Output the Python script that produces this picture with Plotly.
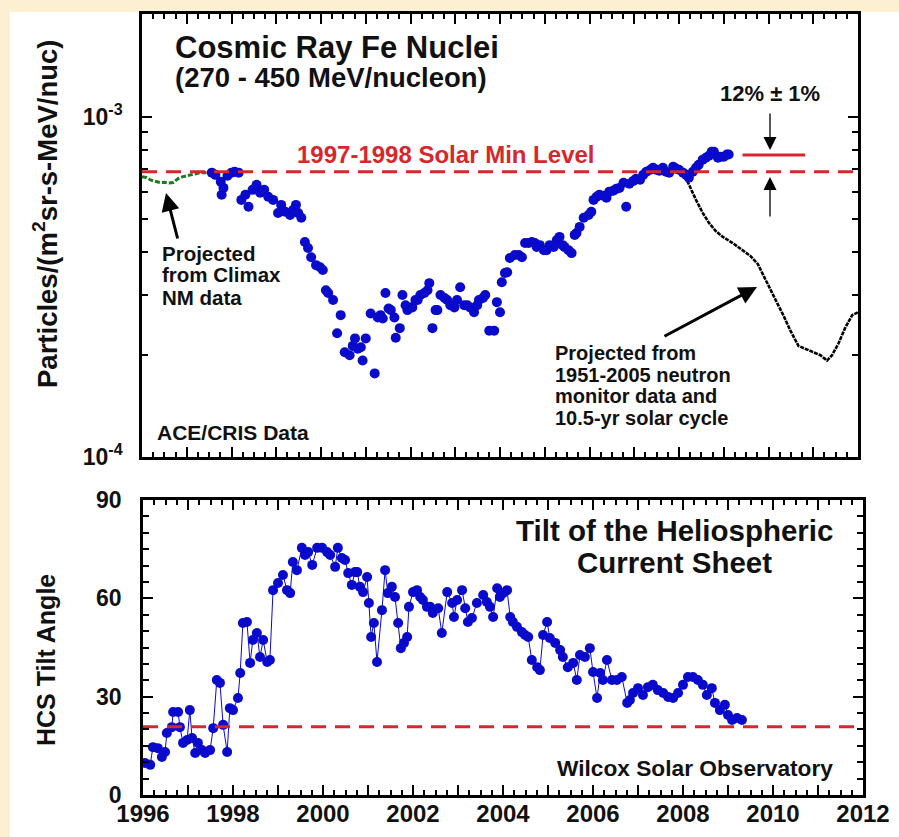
import numpy as np
import plotly.graph_objects as go

# ---------------------------------------------------------------- data
# ACE/CRIS Fe flux (270-450 MeV/nucleon), in units of 1e-4 particles/(m^2 sr s MeV/nuc)
fe_years = [1997.56, 1997.64, 1997.76, 1997.78, 1997.82, 1997.91, 1998.00, 1998.07, 1998.16, 1998.22,
            1998.31, 1998.38, 1998.47, 1998.56, 1998.64, 1998.73, 1998.82, 1998.93, 1999.04, 1999.11,
            1999.20, 1999.31, 1999.38, 1999.44, 1999.49, 1999.56, 1999.64, 1999.71, 1999.78, 1999.89,
            1999.98, 2000.04, 2000.11, 2000.16, 2000.27, 2000.36, 2000.44, 2000.53, 2000.64, 2000.71,
            2000.76, 2000.82, 2000.89, 2000.93, 2001.00, 2001.11, 2001.20, 2001.27, 2001.33, 2001.38,
            2001.44, 2001.51, 2001.56, 2001.64, 2001.67, 2001.76, 2001.82, 2001.89, 2001.93, 2002.00,
            2002.04, 2002.11, 2002.16, 2002.22, 2002.31, 2002.38, 2002.42, 2002.49, 2002.56, 2002.60,
            2002.67, 2002.76, 2002.82, 2002.89, 2002.98, 2003.04, 2003.11, 2003.20, 2003.27, 2003.33,
            2003.42, 2003.49, 2003.53, 2003.62, 2003.67, 2003.76, 2003.87, 2003.93, 2004.00, 2004.04,
            2004.11, 2004.16, 2004.22, 2004.33, 2004.42, 2004.49, 2004.56, 2004.64, 2004.71, 2004.78,
            2004.82, 2004.89, 2004.98, 2005.04, 2005.11, 2005.20, 2005.27, 2005.33, 2005.40, 2005.44,
            2005.53, 2005.60, 2005.67, 2005.71, 2005.78, 2005.87, 2005.98, 2006.04, 2006.09, 2006.16,
            2006.22, 2006.31, 2006.38, 2006.44, 2006.53, 2006.60, 2006.67, 2006.76, 2006.82, 2006.89,
            2006.98, 2007.04, 2007.13, 2007.20, 2007.27, 2007.36, 2007.42, 2007.49, 2007.56, 2007.64,
            2007.71, 2007.78, 2007.87, 2007.93, 2008.00, 2008.09, 2008.16, 2008.22, 2008.31, 2008.38,
            2008.44, 2008.53, 2008.60, 2008.67, 2008.73, 2008.78, 2008.87, 2008.93, 2009.00, 2009.07,
            2009.11]
fe_flux_e4 = [6.84, 6.74, 6.43, 5.89, 6.17, 6.70, 6.84, 6.88, 6.84, 5.69,
              5.89, 5.43, 6.09, 6.30, 5.97, 6.09, 5.81, 5.69, 5.21, 5.50,
              5.25, 5.14, 5.32, 5.50, 5.21, 5.04, 4.28, 4.11, 3.86, 3.66,
              3.61, 3.54, 3.09, 3.03, 2.89, 2.31, 2.61, 2.03, 1.99, 2.12,
              2.23, 2.08, 2.10, 1.92, 2.23, 2.64, 1.76, 2.57, 2.61, 2.55,
              3.03, 2.73, 2.70, 2.57, 2.24, 2.39, 2.99, 2.79, 2.70, 2.75,
              2.75, 2.89, 2.89, 2.99, 3.03, 3.09, 3.24, 2.39, 2.70, 2.70,
              2.99, 2.93, 2.89, 2.79, 2.75, 2.89, 3.15, 2.79, 2.79, 2.75,
              2.66, 2.79, 2.89, 2.93, 2.99, 2.35, 2.35, 2.85, 2.66, 3.26,
              3.47, 3.49, 3.84, 3.92, 3.92, 3.86, 4.25, 4.25, 4.28, 4.25,
              4.14, 4.19, 4.05, 4.05, 4.19, 4.14, 4.34, 4.43, 4.19, 4.14,
              4.05, 3.97, 4.49, 4.55, 4.74, 5.04, 5.14, 5.25, 5.69, 5.81,
              5.89, 5.85, 5.77, 6.01, 6.05, 6.13, 6.17, 6.39, 5.43, 6.35,
              6.47, 6.56, 6.52, 6.74, 6.88, 6.98, 7.07, 6.98, 6.93, 7.07,
              6.88, 6.84, 7.12, 7.03, 6.98, 6.84, 6.74, 6.61, 6.88, 7.07,
              7.22, 7.47, 7.57, 7.67, 7.88, 7.88, 7.57, 7.62, 7.62, 7.73,
              7.73]

# Fe flux projected from Climax neutron monitor data (same units)
climax_years = [1996.0, 1996.1, 1996.2, 1996.3, 1996.4, 1996.5, 1996.6, 1996.7,
                1996.8, 1996.9, 1997.0, 1997.1, 1997.2, 1997.3, 1997.4, 1997.5]
climax_flux_e4 = [6.66, 6.62, 6.50, 6.44, 6.40, 6.41, 6.38, 6.40,
                  6.56, 6.65, 6.70, 6.76, 6.80, 6.84, 6.84, 6.86]

# Projection from 1951-2005 neutron monitor data and a 10.5-yr solar cycle
proj_years = [2008.09, 2008.22, 2008.38, 2008.53, 2008.67, 2008.82, 2008.98, 2009.20, 2009.42,
              2009.60, 2009.76, 2009.93, 2010.16, 2010.33, 2010.49, 2010.67, 2010.82, 2011.00,
              2011.16, 2011.31, 2011.42, 2011.56, 2011.71, 2011.87, 2012.00]
proj_flux_e4 = [6.88, 6.30, 5.69, 5.21, 4.87, 4.61, 4.43, 4.25, 4.05,
                3.89, 3.69, 3.31, 2.89, 2.61, 2.35, 2.12, 2.08, 2.04,
                1.99, 1.92, 1.99, 2.15, 2.39, 2.61, 2.66]

solar_min_flux = 6.88e-4          # 1997-1998 solar minimum level
excess_fraction = 0.12            # current level above the 1997-98 minimum
excess_span = [2009.42, 2010.82]

# Wilcox Solar Observatory HCS tilt angle (degrees)
hcs_years = [1996.04, 1996.16, 1996.22, 1996.33, 1996.42, 1996.49, 1996.53, 1996.64, 1996.67, 1996.78,
             1996.82, 1996.89, 1996.98, 1997.04, 1997.09, 1997.16, 1997.22, 1997.31, 1997.38, 1997.49,
             1997.56, 1997.64, 1997.71, 1997.78, 1997.87, 1997.93, 1998.00, 1998.11, 1998.16, 1998.22,
             1998.31, 1998.38, 1998.44, 1998.53, 1998.60, 1998.67, 1998.76, 1998.82, 1998.89, 1999.00,
             1999.11, 1999.20, 1999.27, 1999.33, 1999.42, 1999.53, 1999.60, 1999.67, 1999.76, 1999.87,
             1999.98, 2000.09, 2000.16, 2000.27, 2000.33, 2000.42, 2000.49, 2000.56, 2000.64, 2000.71,
             2000.76, 2000.82, 2000.89, 2000.98, 2001.02, 2001.07, 2001.13, 2001.20, 2001.31, 2001.38,
             2001.44, 2001.53, 2001.60, 2001.67, 2001.73, 2001.80, 2001.87, 2001.91, 2002.00, 2002.09,
             2002.16, 2002.22, 2002.31, 2002.38, 2002.44, 2002.56, 2002.64, 2002.76, 2002.87, 2002.91,
             2002.98, 2003.09, 2003.16, 2003.22, 2003.31, 2003.42, 2003.56, 2003.64, 2003.71, 2003.78,
             2003.87, 2003.93, 2004.00, 2004.09, 2004.16, 2004.22, 2004.31, 2004.42, 2004.49, 2004.56,
             2004.64, 2004.76, 2004.82, 2004.89, 2004.98, 2005.04, 2005.16, 2005.27, 2005.33, 2005.44,
             2005.56, 2005.64, 2005.71, 2005.82, 2005.93, 2006.00, 2006.09, 2006.16, 2006.22, 2006.31,
             2006.42, 2006.53, 2006.64, 2006.76, 2006.82, 2006.89, 2007.00, 2007.11, 2007.22, 2007.33,
             2007.44, 2007.56, 2007.67, 2007.78, 2007.89, 2008.00, 2008.11, 2008.22, 2008.33, 2008.44,
             2008.53, 2008.64, 2008.71, 2008.82, 2008.93, 2009.00, 2009.09, 2009.20, 2009.31]
hcs_tilt = [9.8, 9.2, 14.6, 14.3, 11.6, 13.1, 18.9, 20.7, 25.3, 25.3,
            20.7, 15.9, 16.8, 25.9, 17.4, 12.8, 15.9, 13.7, 12.8, 13.7,
            20.4, 35.1, 34.2, 21.4, 13.1, 26.5, 25.9, 29.6, 37.2, 52.5,
            52.8, 40.3, 47.3, 49.4, 42.1, 47.3, 40.6, 41.2, 62.5, 64.7,
            67.1, 62.5, 61.6, 71.1, 68.6, 75.4, 73.2, 74.1, 70.2, 75.4,
            75.4, 74.1, 73.2, 69.6, 75.4, 72.3, 71.7, 67.7, 64.1, 68.0,
            68.0, 63.5, 61.9, 66.5, 58.6, 48.2, 52.5, 40.6, 56.4, 68.6,
            61.6, 63.5, 60.4, 52.5, 44.8, 46.4, 48.2, 57.4, 61.9, 62.5,
            60.4, 59.5, 57.4, 57.4, 55.5, 57.0, 49.4, 61.9, 58.6, 54.3,
            59.5, 62.5, 57.0, 52.8, 54.0, 58.6, 61.0, 58.9, 57.4, 54.3,
            63.1, 60.4, 61.6, 62.5, 54.3, 52.8, 51.3, 49.7, 48.8, 48.2,
            41.2, 39.0, 38.1, 48.8, 52.8, 47.9, 46.4, 44.2, 42.1, 39.0,
            40.3, 35.1, 42.7, 42.1, 44.8, 37.5, 29.6, 37.2, 35.1, 41.2,
            35.1, 35.1, 36.0, 28.1, 29.0, 31.1, 32.6, 30.5, 32.9, 33.6,
            32.0, 31.1, 29.9, 29.6, 31.1, 33.6, 36.0, 36.0, 35.1, 33.6,
            30.5, 32.6, 28.1, 25.9, 27.5, 24.4, 22.9, 23.5, 22.9]
hcs_min_tilt = 20.8               # reference tilt level

year_ticks = list(range(1996, 2013))
year_labels = [str(y) if y % 2 == 0 else "" for y in year_ticks]
tilt_ticks = [0, 30, 60, 90]

# ---------------------------------------------------------------- style
W, H = 899, 837
FONT = "Liberation Sans, Arial, Helvetica, sans-serif"
BLUE = "#0a0acc"
RED = "#d8262c"
GREEN = "#1c7a22"
INK = "#111111"


def fx(p):
    """Horizontal pixel position -> paper fraction."""
    return p / W


def fy(p):
    """Vertical pixel position (from top) -> paper fraction."""
    return 1 - p / H


scale = 1e-4
fe_flux = np.array(fe_flux_e4) * scale
climax_flux = np.array(climax_flux_e4) * scale
proj_flux = np.array(proj_flux_e4) * scale
excess_level = solar_min_flux * (1 + excess_fraction)

fig = go.Figure()

# ---- top panel
fig.add_trace(go.Scatter(x=climax_years, y=climax_flux, mode="lines",
                         line=dict(color=GREEN, width=3, dash="5px,2px"),
                         xaxis="x", yaxis="y", showlegend=False))
fig.add_trace(go.Scatter(x=proj_years, y=proj_flux, mode="lines",
                         line=dict(color="black", width=2.6, dash="4px,1px"),
                         xaxis="x", yaxis="y", showlegend=False))
fig.add_trace(go.Scatter(x=fe_years, y=fe_flux, mode="markers",
                         marker=dict(color=BLUE, size=10, line=dict(width=0)),
                         xaxis="x", yaxis="y", showlegend=False))
fig.add_trace(go.Scatter(x=[1996, 2012], y=[solar_min_flux, solar_min_flux], mode="lines",
                         line=dict(color=RED, width=3, dash="15px,9px"),
                         xaxis="x", yaxis="y", showlegend=False))
fig.add_trace(go.Scatter(x=excess_span, y=[excess_level, excess_level], mode="lines",
                         line=dict(color=RED, width=3),
                         xaxis="x", yaxis="y", showlegend=False))

# ---- bottom panel
fig.add_trace(go.Scatter(x=hcs_years, y=hcs_tilt, mode="lines+markers",
                         line=dict(color=BLUE, width=1),
                         marker=dict(color=BLUE, size=10, line=dict(width=0)),
                         xaxis="x2", yaxis="y2", showlegend=False))
fig.add_trace(go.Scatter(x=[1996, 2012], y=[hcs_min_tilt, hcs_min_tilt], mode="lines",
                         line=dict(color=RED, width=3, dash="15px,9px"),
                         xaxis="x2", yaxis="y2", showlegend=False))

axis_common = dict(showline=True, linecolor="black", linewidth=2.5, mirror="ticks",
                   ticks="inside", ticklen=10, tickwidth=2, tickcolor="black",
                   showgrid=False, zeroline=False, automargin=False,
                   tickfont=dict(family=FONT, size=23, color=INK, weight="bold"))
minor_x = dict(ticks="inside", dtick=0.25, tick0=1996, ticklen=5, tickwidth=1.5,
               tickcolor="black", showgrid=False)

fig.update_layout(
    width=W, height=H,
    autosize=False,
    margin=dict(l=0, r=0, t=0, b=0, pad=0, autoexpand=False),
    paper_bgcolor="#fdf0d2",
    plot_bgcolor="white",
    font=dict(family=FONT, color=INK, weight="bold"),
    xaxis=dict(axis_common, domain=[fx(142), fx(858)], range=[1996, 2012],
               tickmode="array", tickvals=year_ticks, showticklabels=False,
               minor=minor_x, anchor="y"),
    yaxis=dict(axis_common, domain=[fy(457), fy(14)], type="log",
               range=[-4, np.log10(2.0e-3)],
               tickmode="array", tickvals=[1e-4, 1e-3],
               ticktext=["10<sup>-4</sup>", "10<sup>-3</sup>"],
               ticklabelstandoff=12,
               minor=dict(ticks="inside", ticklen=6, tickwidth=1.5, tickcolor="black",
                          tickvals=[k * 1e-4 for k in range(2, 10)] + [2e-3]),
               anchor="x"),
    xaxis2=dict(axis_common, domain=[fx(143), fx(863)], range=[1996, 2012],
                tickmode="array", tickvals=year_ticks, ticktext=year_labels,
                ticklabelstandoff=-5, minor=minor_x, anchor="y2",
                tickfont=dict(family=FONT, size=24, color=INK, weight="bold")),
    yaxis2=dict(axis_common, domain=[fy(795), fy(500)], range=[0, 90],
                tickmode="array", tickvals=tilt_ticks, ticklabelstandoff=14,
                minor=dict(ticks="inside", dtick=5, tick0=0, ticklen=6, tickwidth=1.5,
                           tickcolor="black"),
                anchor="x2"),
    shapes=[dict(type="rect", xref="paper", yref="paper", layer="below",
                 x0=fx(10), x1=1, y0=0, y1=fy(12), fillcolor="white", line=dict(width=0))],
)


def label(text, px, py, size, anchor="left", color=INK, angle=0):
    fig.add_annotation(text=text, x=fx(px), y=fy(py), xref="paper", yref="paper",
                       xanchor=anchor, yanchor="middle", showarrow=False, textangle=angle,
                       font=dict(family=FONT, size=size, color=color, weight="bold"))


def arrow(tip_px, tip_py, dx, dy, width, size):
    fig.add_annotation(text="", x=fx(tip_px), y=fy(tip_py), xref="paper", yref="paper",
                       ax=dx, ay=dy, showarrow=True, arrowhead=2, arrowsize=size,
                       arrowwidth=width, arrowcolor="black")


# axis titles
label("Particles/(m<sup>2</sup>sr-s-MeV/nuc)", 45, 214, 27.5, anchor="center", angle=-90)
label("HCS Tilt Angle", 46, 660, 25, anchor="center", angle=-90)

# top panel text
label("Cosmic Ray Fe Nuclei", 173, 47, 31)
label("(270 - 450 MeV/nucleon)", 173, 78, 27.5)
label("1997-1998 Solar Min Level", 295, 155, 24, color=RED)
label("12% \u00b1 1%", 770, 94, 22, anchor="center")
for i, line in enumerate(["Projected", "from Climax", "NM data"]):
    label(line, 160, 253 + 22 * i, 20.5)
for i, line in enumerate(["Projected from", "1951-2005 neutron", "monitor data and",
                          "10.5-yr solar cycle"]):
    label(line, 553, 353 + 21.7 * i, 20)
label("ACE/CRIS Data", 155, 432, 21)

# bottom panel text
label("Tilt of the Heliospheric", 674, 530, 29.5, anchor="center")
label("Current Sheet", 674, 562, 29.5, anchor="center")
label("Wilcox Solar Observatory", 555, 768, 22.7)

# arrows
arrow(166, 193, 12, 47, 3, 1.2)
arrow(757, 287, -94, 50, 3, 1.2)
arrow(770, 150, 0, -38, 1.3, 2.0)
arrow(770, 177, 0, 41, 1.3, 2.0)

fig.write_html("out.html")
